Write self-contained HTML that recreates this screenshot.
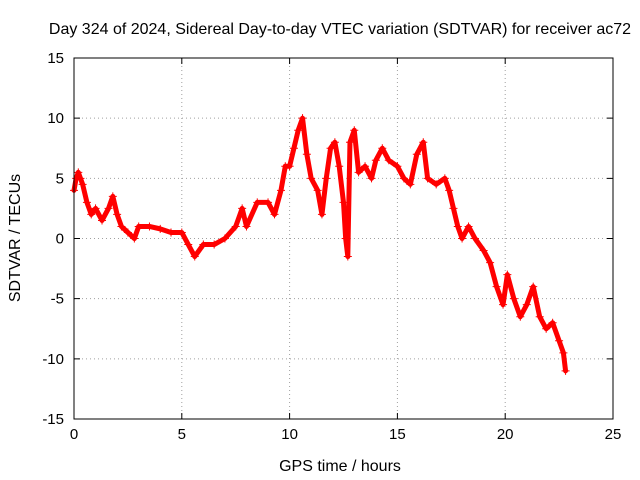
<!DOCTYPE html>
<html><head><meta charset="utf-8"><style>
body{margin:0;background:#fff}
svg{display:block;font-family:"Liberation Sans",sans-serif}
</style></head><body>
<svg id="chart" width="640" height="480" viewBox="0 0 640 480">
<text x="340" y="34" text-anchor="middle" font-size="16">Day 324 of 2024, Sidereal Day-to-day VTEC variation (SDTVAR) for receiver ac72</text>
<text x="340" y="471" text-anchor="middle" font-size="16">GPS time / hours</text>
<text transform="translate(20,238) rotate(-90)" text-anchor="middle" font-size="16">SDTVAR / TECUs</text>
<g id="grid"></g>
<g id="axes"></g>
<g id="series"></g>
<rect x="74" y="58" width="539" height="361" fill="none" stroke="#000" stroke-width="1"/>
</svg>
<script>
const xTicks=[0,5,10,15,20,25];
const yTicks=[-15,-10,-5,0,5,10,15];
const hours=[0,0.1,0.2,0.3,0.4,0.6,0.8,1.0,1.3,1.6,1.8,2.0,2.2,2.5,2.8,3.0,3.5,4.0,4.5,5.0,5.3,5.6,6.0,6.5,7.0,7.5,7.8,8.0,8.5,9.0,9.3,9.6,9.8,10.0,10.2,10.4,10.6,10.8,11.0,11.3,11.5,11.7,11.9,12.1,12.3,12.5,12.6,12.7,12.8,13.0,13.2,13.5,13.8,14.0,14.3,14.6,15.0,15.3,15.6,15.9,16.2,16.4,16.8,17.2,17.4,17.6,17.8,18.0,18.3,18.6,19.0,19.3,19.6,19.9,20.1,20.4,20.7,21.0,21.3,21.6,21.9,22.2,22.5,22.7,22.8];
const sdtvar=[4,5,5.5,5,4.5,3,2,2.5,1.5,2.5,3.5,2,1,0.5,0,1,1,0.8,0.5,0.5,-0.5,-1.5,-0.5,-0.5,0,1,2.5,1,3,3,2,4,6,6,7.5,9,10,7,5,4,2,5,7.5,8,6,3,0,-1.5,8,9,5.5,6,5,6.5,7.5,6.5,6,5,4.5,7,8,5,4.5,5,4,2.5,1,0,1,0,-1,-2,-4,-5.5,-3,-5,-6.5,-5.5,-4,-6.5,-7.5,-7,-8.5,-9.5,-11];
const L=74,R=613,T=58,B=419;
const X=v=>L+(v-0)/(25-0)*(R-L);
const Y=v=>B-(v+15)/30*(B-T);
const NS='http://www.w3.org/2000/svg';
const grid=document.getElementById('grid'),axes=document.getElementById('axes'),ser=document.getElementById('series');
function mk(tag,attrs,parent){const e=document.createElementNS(NS,tag);for(const k in attrs)e.setAttribute(k,attrs[k]);parent.appendChild(e);return e;}
xTicks.forEach(t=>{
 const x=X(t);
 if(t>0&&t<25){const g=mk('line',{x1:x,x2:x,y1:T,y2:B,stroke:'#a0a0a0','stroke-dasharray':'1,3'},grid);}
 const tk=mk('path',{d:`M${x},${B}v-6M${x},${T}v6`,stroke:'#000'},axes);
 
 
 const lb=mk('text',{x:x,y:B+20,'text-anchor':'middle','font-size':'15'},axes);lb.textContent=t;
 
 
});
yTicks.forEach(t=>{
 const y=Y(t);
 if(t>-15&&t<15){const g=mk('line',{x1:L,x2:R,y1:y,y2:y,stroke:'#a0a0a0','stroke-dasharray':'1,3'},grid);}
 const tk=mk('path',{d:`M${L},${y}h6M${R},${y}h-6`,stroke:'#000'},axes);
 
 
 const lb=mk('text',{x:L-10,y:y+5,'text-anchor':'end','font-size':'15'},axes);lb.textContent=t;
 
 
});
let d='';hours.forEach((h,i)=>{d+=(i?'L':'M')+X(h)+','+Y(sdtvar[i]);});
const band=mk('path',{d:d,fill:'none',stroke:'#f00','stroke-width':5,'stroke-linejoin':'round','stroke-linecap':'round'},ser);


hours.forEach((h,i)=>{
 const x=X(h),y=Y(sdtvar[i]);
 const p=mk('path',{d:`M${x-4},${y}h8M${x},${y-4}v8`,stroke:'#f00','stroke-width':1},ser);
 
 
});
</script>
</body></html>
